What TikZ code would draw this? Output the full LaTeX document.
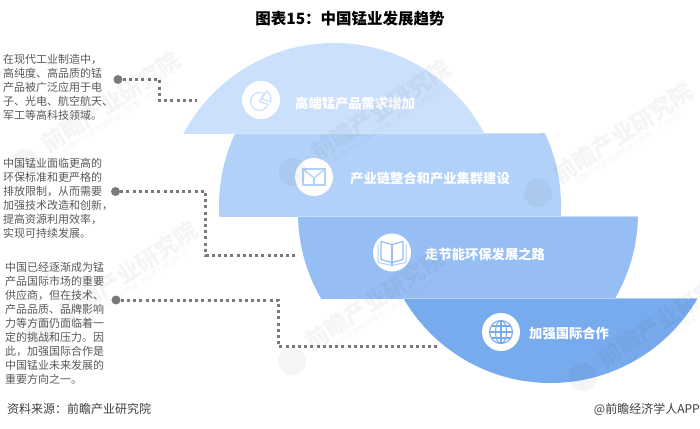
\documentclass[tikz,border=0pt]{standalone}
\usepackage{fontspec}
\setmainfont{Noto Sans CJK SC}
\usetikzlibrary{calc}
\definecolor{bandA}{HTML}{CAE0FC}
\definecolor{bandB}{HTML}{B2D1F8}
\definecolor{bandC}{HTML}{96BEF4}
\definecolor{bandD}{HTML}{78ABEE}
\definecolor{dotgray}{HTML}{7A7A7A}
\definecolor{notegray}{HTML}{595959}
\tikzset{
  dotline/.style={line width=3pt,dotgray,dash pattern=on 3pt off 3.2pt},
  dotend/.style={circle,fill=dotgray,inner sep=0pt,minimum size=9pt},
  iconbase/.style={circle,fill=white,inner sep=0pt,minimum size=38pt},
  edgeline/.style={white,opacity=0.45,line width=1pt},
  bandlabel/.style={text=white,font=\fontsize{13.3}{14}\selectfont\bfseries,anchor=west,inner sep=0pt},
  notetext/.style={text=notegray,font=\fontsize{11}{14}\selectfont,align=left,anchor=north west,inner sep=0pt},
  wmtitle/.style={black,opacity=0.04,rotate=33,font=\fontsize{23}{24}\selectfont\bfseries,inner sep=0pt},
  wmsub/.style={black,opacity=0.04,rotate=33,font=\fontsize{7.6}{8}\selectfont,inner sep=0pt},
  wmlogo/.style={circle,fill=black,opacity=0.04,inner sep=0pt,minimum size=28pt},
  foot/.style={text=black!75,font=\fontsize{12}{14}\selectfont,inner sep=0pt}
}
\begin{document}
\begin{tikzpicture}[x=1pt,y=-1pt]
\useasboundingbox (0,0) rectangle (700,428);
\fill[white] (0,0) rectangle (700,428);
% bands
\begin{scope}
\clip (150,40) rectangle (520,133);
\fill[bandA] (334,213) circle (170);
\end{scope}
\begin{scope}
\clip (200,133) rectangle (600,216);
\fill[bandB] (390,206) circle (171);
\end{scope}
\begin{scope}
\clip (280,216) rectangle (660,298);
\fill[bandC] (468,213) circle (170);
\end{scope}
\begin{scope}
\clip (380,298) rectangle (700,390);
\fill[bandD] (550.5,213) circle (170);
\end{scope}
\draw[edgeline] (230,133) -- (539,133);
\draw[edgeline] (298,216) -- (638,216);
\draw[edgeline] (403,298) -- (698,298);
% icons
\node[iconbase] (iconA) at (261,100) {};
\node[iconbase] (iconB) at (314,177) {};
\node[iconbase] (iconC) at (392,252.5) {};
\node[iconbase] (iconD) at (501,332) {};
\coordinate (pieA) at ($(iconA)+(-1.5,1.5)$);
\draw[bandA,line width=1.2pt] (pieA) -- ++(-60:9) arc (-60:-340:9) -- cycle;
\draw[bandA,line width=1.2pt] ($(pieA)+(2.5,-2.5)$) -- ++(-60:9) arc (-60:20:9) -- cycle;
\draw[bandB,line width=1.3pt] (iconB.center) ++(-11,-8) rectangle ++(22,16);
\draw[bandB,line width=1.3pt] (iconB.center) ++(-11,-8) -- ++(11,9) -- ++(11,-9);
\draw[bandB,line width=1.3pt] (iconB.center) ++(0,1) -- ++(0,7);
\draw[bandC!70,line width=1pt] (iconC.center) ++(-14,-9) -- ++(0,19) -- ++(14,3) -- ++(14,-3) -- ++(0,-19);
\draw[bandC,line width=1.2pt] (iconC.center) ++(0,-8) -- ++(-11,-3) -- ++(0,18) -- ++(11,3);
\draw[bandC,line width=1.2pt] (iconC.center) ++(0,-8) -- ++(0,21);
\draw[bandC,line width=1.2pt] (iconC.center) ++(0,-8) -- ++(11,-3) -- ++(0,18) -- ++(-11,3);
\draw[bandD,line width=1.1pt] (iconD.center) circle (11.5);
\draw[bandD,line width=1.1pt] (iconD.center) ellipse (5.5 and 11.5);
\draw[bandD,line width=1.1pt] (iconD.center) ++(0,-11.5) -- ++(0,23);
\draw[bandD,line width=1.1pt] (iconD.center) ++(-11.5,0) -- ++(23,0);
\draw[bandD,line width=1.1pt] (iconD.center) ++(-10,-6) -- ++(20,0);
\draw[bandD,line width=1.1pt] (iconD.center) ++(-10,6) -- ++(20,0);
% labels
\node[bandlabel] (labelA) at (295,103) {高端锰产品需求增加};
\node[bandlabel] (labelB) at (350,179) {产业链整合和产业集群建设};
\node[bandlabel] (labelC) at (425,254) {走节能环保发展之路};
\node[bandlabel] (labelD) at (529,333) {加强国际合作};
% notes
\node[notetext] (noteA) at (3,54.5) {在现代工业制造中，\\高纯度、高品质的锰\\产品被广泛应用于电\\子、光电、航空航天、\\军工等高科技领域。};
\node[notetext] (noteB) at (3,158) {中国锰业面临更高的\\环保标准和更严格的\\排放限制，从而需要\\加强技术改造和创新，\\提高资源利用效率，\\实现可持续发展。};
\node[notetext] (noteC) at (5,262) {中国已经逐渐成为锰\\产品国际市场的重要\\供应商，但在技术、\\产品品质、品牌影响\\力等方面仍面临着一\\定的挑战和压力。因\\此，加强国际合作是\\中国锰业未来发展的\\重要方向之一。};
% connectors
\node[dotend] (dotA) at (118,79.5) {};
\node[dotend] (dotB) at (115.5,191.5) {};
\node[dotend] (dotC) at (116,300) {};
\coordinate (kneeA) at (159,79.5);
\coordinate (bendA) at (159,100);
\coordinate (endA) at (197,100);
\coordinate (kneeB) at (205.5,191.5);
\coordinate (bendB) at (205.5,255);
\coordinate (endB) at (295,255);
\coordinate (kneeC) at (278,300);
\coordinate (bendC) at (278,346);
\coordinate (endC) at (440,346);
\draw[dotline] (dotA) -- (kneeA) -- (bendA) -- (endA);
\draw[dotline] (dotB) -- (kneeB) -- (bendB) -- (endB);
\draw[dotline] (dotC) -- (kneeC) -- (bendC) -- (endC);
% title and footer
\node[font=\fontsize{15.5}{16}\selectfont\bfseries,inner sep=0pt] (title) at (350,19) {图表15：中国锰业发展趋势};
\node[foot,anchor=west] (source) at (7,409) {资料来源：前瞻产业研究院};
\node[foot,anchor=east] (brand) at (700,409) {@前瞻经济学人APP};
% watermarks
\begin{scope}
\clip (0,0) rectangle (700,428);
\node[wmlogo] (logoA) at (25,163) {};
\node[wmtitle] (wmA) at (111,102) {前瞻产业研究院};
\node[wmsub] (subA) at (119,116) {中国产业咨询领导者（股票：839599）};
\node[wmlogo] (logoB) at (293,172) {};
\node[wmtitle] (wmB) at (381,110) {前瞻产业研究院};
\node[wmsub] (subB) at (389,124) {中国产业咨询领导者（股票：839599）};
\node[wmlogo] (logoC) at (538,193) {};
\node[wmtitle] (wmC) at (623,133) {前瞻产业研究院};
\node[wmsub] (subC) at (631,147) {中国产业咨询领导者（股票：839599）};
\node[wmlogo] (logoD) at (40,332) {};
\node[wmtitle] (wmD) at (128,272) {前瞻产业研究院};
\node[wmsub] (subD) at (136,286) {中国产业咨询领导者（股票：839599）};
\node[wmlogo] (logoE) at (292,361) {};
\node[wmtitle] (wmE) at (375,300) {前瞻产业研究院};
\node[wmsub] (subE) at (383,314) {中国产业咨询领导者（股票：839599）};
\node[wmlogo] (logoF) at (583,377) {};
\node[wmtitle] (wmF) at (668,317) {前瞻产业研究院};
\node[wmsub] (subF) at (676,331) {中国产业咨询领导者（股票：839599）};
\end{scope}
\end{tikzpicture}
\end{document}
